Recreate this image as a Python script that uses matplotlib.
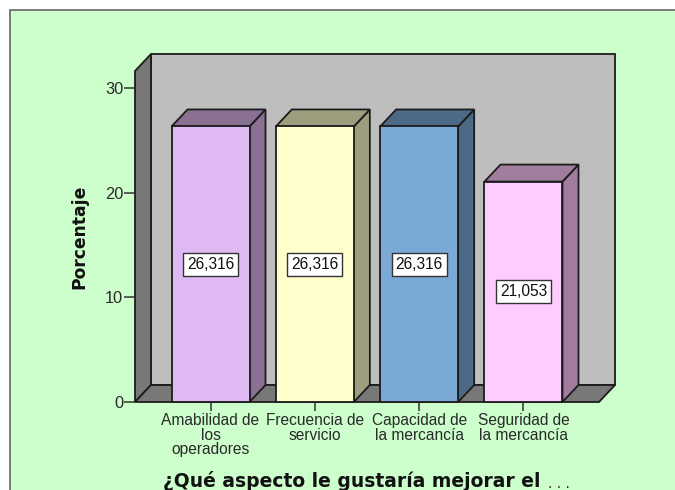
import matplotlib
matplotlib.use("Agg")
import matplotlib.pyplot as plt
from matplotlib.patches import Rectangle

categories = ["Amabilidad de\nlos\noperadores", "Frecuencia de\nservicio",
              "Capacidad de\nla mercancía", "Seguridad de\nla mercancía"]
values = [26.316, 26.316, 26.316, 21.053]
value_labels = ["26,316", "26,316", "26,316", "21,053"]
y_ticks = [0, 10, 20, 30]
front_colors = ["#DFB9F3", "#FFFFCC", "#7BA9D6", "#FFCCFF"]
side_colors = ["#8A7194", "#9E9E7E", "#4C6A85", "#A07D9D"]

W, H = 675, 490
EDGE = "#1c1c1c"
TEXT = "#2a2a2a"

fig = plt.figure(figsize=(W / 100, H / 100), dpi=100, facecolor="white")

# green panel runs off the right and bottom of the image
fig.patches.append(Rectangle((9.5 / W, 0 - 0.1), 1, (H - 10) / H + 0.1,
                             transform=fig.transFigure, facecolor="#CCFFCC",
                             edgecolor="#666666", linewidth=1.2, zorder=-1))

# axes box is the front plane of the 3d frame, in pixels
left, right, bottom, top = 135, 599, 402, 71
ax = fig.add_axes([left / W, (H - bottom) / H, (right - left) / W, (bottom - top) / H])
ax.patch.set_visible(False)
for s in ax.spines.values():
    s.set_visible(False)

spacing = 104.33
ppu = 10.47
ax.set_xlim(-75.5 / spacing, 3 + 75.5 / spacing)
ax.set_ylim(0, (bottom - top) / ppu)
x0, x1 = ax.get_xlim()
y1 = ax.get_ylim()[1]
dx = 16 / spacing
dy = 17 / ppu
half = 39 / spacing


def poly(xs, ys, color, z):
    ax.fill(xs, ys, facecolor=color, edgecolor=EDGE, linewidth=1.3, clip_on=False,
            zorder=z, joinstyle="miter")


# walls and floor
poly([x0 + dx, x1 + dx, x1 + dx, x0 + dx], [dy, dy, y1 + dy, y1 + dy], "#BEBEBE", 1)
poly([x0, x0 + dx, x0 + dx, x0], [0, dy, y1 + dy, y1], "#787878", 1.1)
poly([x0, x1, x1 + dx, x0 + dx], [0, 0, dy, dy], "#787878", 1.1)

xpos = list(range(len(values)))
ax.bar(xpos, values, width=2 * half, color=front_colors, edgecolor=EDGE, linewidth=1.3,
       zorder=3, clip_on=False)
for x, v, side, lab in zip(xpos, values, side_colors, value_labels):
    a, b = x - half, x + half
    poly([b, b + dx, b + dx, b], [0, dy, v + dy, v], side, 2.5)
    poly([a, b, b + dx, a + dx], [v, v, v + dy, v + dy], side, 2.5)
    ax.text(x, v / 2, lab, ha="center", va="center", fontsize=11.2, color="#111111",
            family="Liberation Sans", zorder=5,
            bbox=dict(boxstyle="square,pad=0.25", facecolor="white", edgecolor="#333333",
                      linewidth=1))

ax.set_xticks(xpos, categories, family="Liberation Sans", fontsize=11.2, color=TEXT,
              linespacing=0.95)
ax.set_yticks(y_ticks, [str(t) for t in y_ticks], family="Liberation Sans", fontsize=11.8,
              color=TEXT)
ax.tick_params(axis="x", length=6.5, width=1.1, color="#333333", pad=1.5)
ax.tick_params(axis="y", length=8, width=1.1, color="#333333", pad=0.5)

ax.set_ylabel("Porcentaje", family="DejaVu Sans", fontweight="bold", fontsize=12.3,
              color="#111111", labelpad=12)

fig.text(163 / W, 1 - 481 / H, "¿Qué aspecto le gustaría mejorar el", family="DejaVu Sans",
         fontweight="bold", fontsize=13.5, color="#111111", ha="left", va="center")
fig.text(548 / W, 1 - 484 / H, ". . .", family="DejaVu Sans", fontsize=10, color="#222222",
         ha="left", va="center")

fig.savefig("out.png", dpi=100, facecolor="white")
